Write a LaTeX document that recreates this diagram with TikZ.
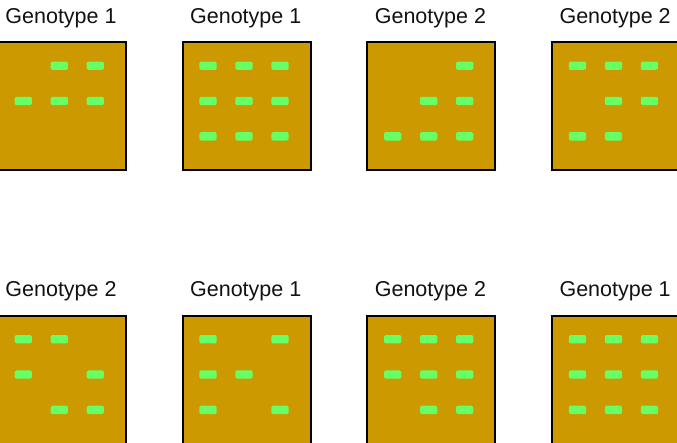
\documentclass[tikz,border=0pt]{standalone}
\usepackage{fontspec}
\setmainfont{Liberation Sans}
\definecolor{plotgold}{RGB}{204,153,0}
\definecolor{spotgreen}{RGB}{102,255,102}
\begin{document}
\begin{tikzpicture}[x=1pt,y=-1pt,
  plotbox/.style={draw=black, line width=2pt, fill=plotgold, minimum width=128pt, minimum height=128pt, inner sep=0pt, anchor=north west},
  spot/.style={fill=spotgreen, draw=none, rounded corners=1.5pt, minimum width=17.2pt, minimum height=8.4pt, inner sep=0pt},
  lbl/.style={anchor=base, inner sep=0pt, font=\fontsize{21.5}{24}\selectfont, text=black!93}]
\useasboundingbox (0,0) rectangle (677,442);
\foreach \c/\r/\g/\pat [count=\i] in {
 0/0/1/{2/1,3/1,1/2,2/2,3/2},
 1/0/1/{1/1,2/1,3/1,1/2,2/2,3/2,1/3,2/3,3/3},
 2/0/2/{3/1,2/2,3/2,1/3,2/3,3/3},
 3/0/2/{1/1,2/1,3/1,2/2,3/2,1/3,2/3},
 0/1/2/{1/1,2/1,1/2,3/2,2/3,3/3},
 1/1/1/{1/1,3/1,1/2,2/2,1/3,3/3},
 2/1/2/{1/1,2/1,3/1,1/2,2/2,3/2,2/3,3/3},
 3/1/1/{1/1,2/1,3/1,1/2,2/2,3/2,1/3,2/3,3/3}}
{
  \pgfmathsetmacro\L{-4+184.7*\c}
  \pgfmathsetmacro\T{40+273.5*\r}
  \node[plotbox] (box\i) at (\L+1,\T+1) {};
  \node[lbl] (label\i) at (\L+65,\T-16.7) {Genotype \g};
  \foreach \bx/\by in \pat {
    \node[spot] (spot\i-\bx-\by) at (\L-8.7+36*\bx, \T-9.6+35.3*\by) {};
  }
}
\end{tikzpicture}
\end{document}
